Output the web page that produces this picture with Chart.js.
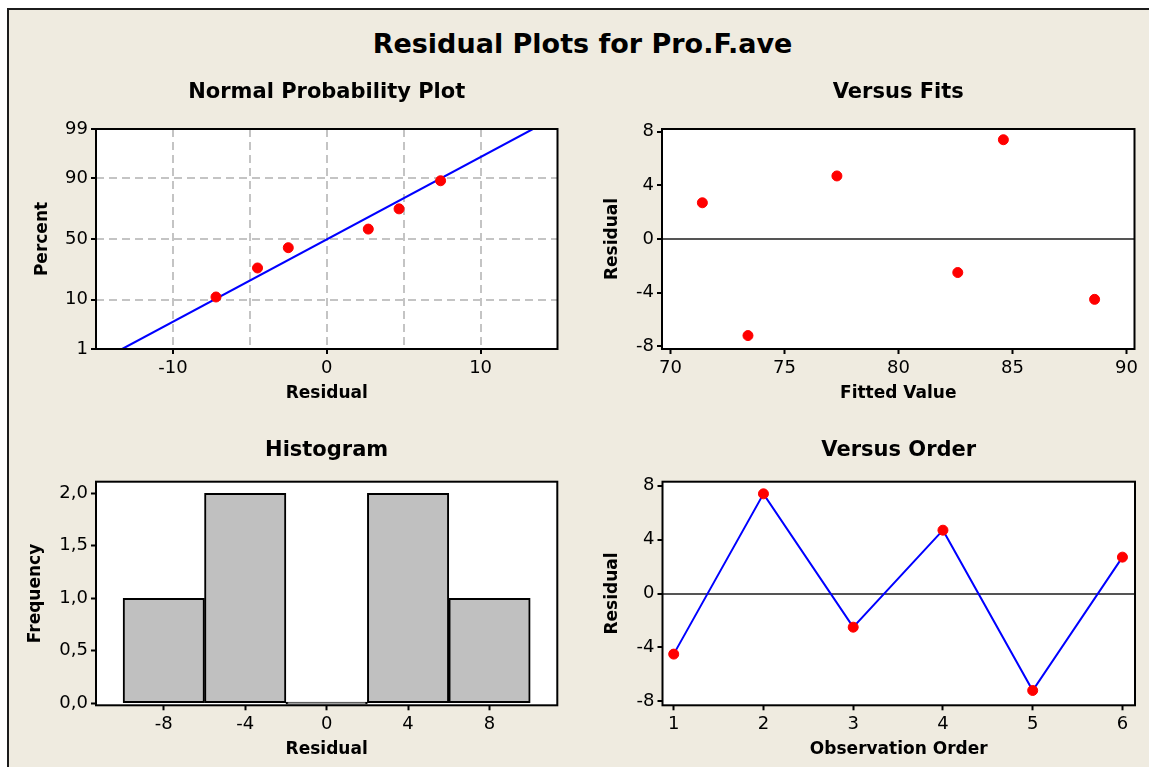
<!DOCTYPE html>
<html>
<head>
<meta charset="utf-8">
<title>Residual Plots for Pro.F.ave</title>
<script src="https://cdn.jsdelivr.net/npm/chart.js@4.4.1/dist/chart.umd.min.js"></script>
<style>
  html, body { margin: 0; padding: 0; background: #fff; width: 1149px; height: 767px; overflow: hidden; }
  #sheet { position: absolute; left: 7px; top: 8px; width: 1142px; height: 759px; box-sizing: border-box;
           border-top: 2px solid #1c1c1c; border-left: 2px solid #1c1c1c; background: #EFEBE0; }
  #mainTitle { position: absolute; left: 0; width: 1165px; top: 29px; text-align: center;
               font: bold 27px "DejaVu Sans"; line-height: 30px; color: #000; white-space: nowrap; }
  canvas { position: absolute; }
</style>
</head>
<body>
<div id="sheet"></div>
<div id="mainTitle">Residual Plots for Pro.F.ave</div>
<canvas id="npp" width="565" height="345" style="left:10px;top:70px;width:565px;height:345px"></canvas>
<canvas id="fits" width="569" height="345" style="left:580px;top:70px;width:569px;height:345px"></canvas>
<canvas id="hist" width="565" height="340" style="left:10px;top:427px;width:565px;height:340px"></canvas>
<canvas id="order" width="569" height="340" style="left:580px;top:427px;width:569px;height:340px"></canvas>
<script>
const FONT = 'DejaVu Sans';

// Observations in run order
const observationOrder = [1, 2, 3, 4, 5, 6];
const fittedValues = [88.6, 84.6, 82.6, 77.3, 73.4, 71.4];
const residuals = [-4.5, 7.4, -2.5, 4.7, -7.2, 2.7];

// Normal probability plot: ordered residuals and their plotting percents
const sortedResiduals = [-7.2, -4.5, -2.5, 2.7, 4.7, 7.4];
const plottedPercents = [11, 27, 42.7, 58.3, 73.8, 89.1];
const fitLineResiduals = [-13.3, 13.4];
const fitLinePercents = [1, 99];

// Histogram bins
const binMidpoints = [-8, -4, 0, 4, 8];
const binCounts = [1, 2, 0, 2, 1];

// Tick positions
const percentTicks = [1, 10, 50, 90, 99];
const nppResidualTicks = [-10, -5, 0, 5, 10];
const fitTicks = [70, 75, 80, 85, 90];
const residualTicks = [-8, -4, 0, 4, 8];
const frequencyTicks = [0, 0.5, 1, 1.5, 2];
const orderTicks = [1, 2, 3, 4, 5, 6];

// Inverse standard normal CDF (Acklam), used for the probability axis
function probit(p) {
  const a = [-3.969683028665376e+01, 2.209460984245205e+02, -2.759285104469687e+02, 1.383577518672690e+02, -3.066479806614716e+01, 2.506628277459239e+00];
  const b = [-5.447609879822406e+01, 1.615858368580409e+02, -1.556989798598866e+02, 6.680131188771972e+01, -1.328068155288572e+01];
  const c = [-7.784894002430293e-03, -3.223964580411365e-01, -2.400758277161838e+00, -2.549732539343734e+00, 4.374664141464968e+00, 2.938163982698783e+00];
  const d = [7.784695709041462e-03, 3.224671290700398e-01, 2.445134137142996e+00, 3.754408661907416e+00];
  const pl = 0.02425, ph = 1 - pl;
  let q, r;
  if (p < pl) {
    q = Math.sqrt(-2 * Math.log(p));
    return (((((c[0]*q+c[1])*q+c[2])*q+c[3])*q+c[4])*q+c[5]) / ((((d[0]*q+d[1])*q+d[2])*q+d[3])*q+1);
  }
  if (p > ph) {
    q = Math.sqrt(-2 * Math.log(1 - p));
    return -(((((c[0]*q+c[1])*q+c[2])*q+c[3])*q+c[4])*q+c[5]) / ((((d[0]*q+d[1])*q+d[2])*q+d[3])*q+1);
  }
  q = p - 0.5; r = q * q;
  return (((((a[0]*r+a[1])*r+a[2])*r+a[3])*r+a[4])*r+a[5])*q / (((((b[0]*r+b[1])*r+b[2])*r+b[3])*r+b[4])*r+1);
}

// White plotting area with a black frame
const plotFrame = {
  id: 'plotFrame',
  beforeDraw(chart) {
    const { ctx, chartArea: a } = chart;
    ctx.save();
    ctx.fillStyle = '#ffffff';
    ctx.fillRect(a.left, a.top, a.right - a.left, a.bottom - a.top);
    ctx.restore();
  },
  afterDatasetsDraw(chart) {
    const { ctx, chartArea: a } = chart;
    ctx.save();
    ctx.strokeStyle = '#000';
    ctx.lineWidth = 2;
    ctx.strokeRect(a.left, a.top, a.right - a.left, a.bottom - a.top);
    ctx.restore();
  }
};

const CLEAR = 'rgba(0,0,0,0)';

function axis(o) {
  return {
    type: 'linear',
    min: o.min,
    max: o.max,
    offset: false,
    afterBuildTicks: s => { s.ticks = o.ticks.map(v => ({ value: v })); },
    afterFit: s => {
      if (o.width != null) s.width = o.width;
      if (o.height != null) s.height = o.height;
    },
    border: { display: false, dash: o.dash || [] },
    grid: {
      display: true,
      offset: false,
      drawOnChartArea: !!o.gridColor,
      color: o.gridColor || CLEAR,
      lineWidth: o.gridWidth || 1,
      drawTicks: true,
      tickLength: 5,
      tickColor: o.tickColor || '#000',
      tickWidth: 2
    },
    ticks: {
      color: '#000',
      font: { family: FONT, size: 18 },
      padding: o.tickPad,
      autoSkip: false,
      maxRotation: 0,
      minRotation: 0,
      callback: o.label || (v => String(v))
    },
    title: {
      display: true,
      text: o.title,
      color: '#000',
      font: { family: FONT, size: 17, weight: 'bold' },
      padding: o.titlePad
    }
  };
}

function baseOptions(title, titlePad, rightPad, scales) {
  return {
    responsive: false,
    maintainAspectRatio: false,
    animation: false,
    events: [],
    layout: { padding: { left: 0, right: rightPad, top: 0, bottom: 0 } },
    plugins: {
      legend: { display: false },
      tooltip: { enabled: false },
      title: {
        display: true,
        text: title,
        color: '#000',
        fullSize: false,
        font: { family: FONT, size: 21, weight: 'bold' },
        padding: titlePad
      }
    },
    scales
  };
}

const pointStyle = {
  pointRadius: 5,
  pointBorderWidth: 1,
  pointBackgroundColor: '#FF0000',
  pointBorderColor: '#FF0000'
};

// Normal Probability Plot
new Chart(document.getElementById('npp'), {
  type: 'scatter',
  data: {
    datasets: [
      {
        data: fitLineResiduals.map((x, i) => ({ x, y: probit(fitLinePercents[i] / 100) })),
        showLine: true,
        borderColor: '#0000FF',
        borderWidth: 2,
        pointRadius: 0,
        order: 2
      },
      Object.assign({
        data: sortedResiduals.map((x, i) => ({ x, y: probit(plottedPercents[i] / 100) })),
        showLine: false,
        order: 1
      }, pointStyle)
    ]
  },
  plugins: [plotFrame],
  options: baseOptions('Normal Probability Plot', { top: 10.4, bottom: 23.4 }, 17.5, {
    x: axis({
      min: -15, max: 15, ticks: nppResidualTicks, height: 66, tickPad: 3.5,
      title: 'Residual', titlePad: { top: 0, bottom: 10.8 },
      gridColor: '#C4C4C4', gridWidth: 2, dash: [8, 5],
      tickColor: ctx => (ctx.tick && ctx.tick.value % 10 === 0) ? '#000' : CLEAR,
      label: v => (v % 10 === 0 ? String(v) : '')
    }),
    y: axis({
      min: probit(percentTicks[0] / 100), max: probit(percentTicks[percentTicks.length - 1] / 100),
      ticks: percentTicks.map(p => probit(p / 100)), width: 86, tickPad: 3,
      title: 'Percent', titlePad: { top: 22.3, bottom: 0 },
      gridColor: '#C4C4C4', gridWidth: 2, dash: [8, 5],
      label: (v, i) => String(percentTicks[i])
    })
  })
});

// Versus Fits
new Chart(document.getElementById('fits'), {
  type: 'scatter',
  data: {
    datasets: [Object.assign({
      data: fittedValues.map((x, i) => ({ x, y: residuals[i] })),
      showLine: false
    }, pointStyle)]
  },
  plugins: [plotFrame],
  options: baseOptions('Versus Fits', { top: 10.4, bottom: 23.4 }, 14.5, {
    x: axis({
      min: 69.63, max: 90.35, ticks: fitTicks, height: 66, tickPad: 3.5,
      title: 'Fitted Value', titlePad: { top: 0, bottom: 10.8 }
    }),
    y: axis({
      min: -8.2, max: 8.2, ticks: residualTicks, width: 82, tickPad: 3,
      title: 'Residual', titlePad: { top: 22.3, bottom: 0 },
      gridColor: ctx => (ctx.tick && ctx.tick.value === 0) ? '#555555' : CLEAR, gridWidth: 2
    })
  })
});

// Histogram
new Chart(document.getElementById('hist'), {
  type: 'bar',
  data: {
    datasets: [{
      data: binMidpoints.map((x, i) => ({ x, y: binCounts[i] })),
      backgroundColor: '#C0C0C0',
      borderColor: '#000',
      borderWidth: 2,
      borderSkipped: false,
      barPercentage: 1,
      categoryPercentage: 1,
      minBarLength: 2
    }]
  },
  plugins: [plotFrame],
  options: baseOptions('Histogram', { top: 10.9, bottom: 18.6 }, 17.7, {
    x: axis({
      min: -11.33, max: 11.33, ticks: binMidpoints, height: 61.7, tickPad: 2.9,
      title: 'Residual', titlePad: { top: 0, bottom: 6.8 }
    }),
    y: axis({
      min: -0.02, max: 2.11, ticks: frequencyTicks, width: 86, tickPad: 3,
      title: 'Frequency', titlePad: { top: 15.3, bottom: 0 },
      label: v => v.toFixed(1).replace('.', ',')
    })
  })
});

// Versus Order
new Chart(document.getElementById('order'), {
  type: 'scatter',
  data: {
    datasets: [Object.assign({
      data: observationOrder.map((x, i) => ({ x, y: residuals[i] })),
      showLine: true,
      borderColor: '#0000FF',
      borderWidth: 2
    }, pointStyle)]
  },
  plugins: [plotFrame],
  options: baseOptions('Versus Order', { top: 10.9, bottom: 18.6 }, 14, {
    x: axis({
      min: 0.875, max: 6.14, ticks: orderTicks, height: 61.7, tickPad: 2.9,
      title: 'Observation Order', titlePad: { top: 0, bottom: 6.8 }
    }),
    y: axis({
      min: -8.3, max: 8.3, ticks: residualTicks, width: 82.5, tickPad: 3,
      title: 'Residual', titlePad: { top: 22.8, bottom: 0 },
      gridColor: ctx => (ctx.tick && ctx.tick.value === 0) ? '#555555' : CLEAR, gridWidth: 2
    })
  })
});
</script>
</body>
</html>
